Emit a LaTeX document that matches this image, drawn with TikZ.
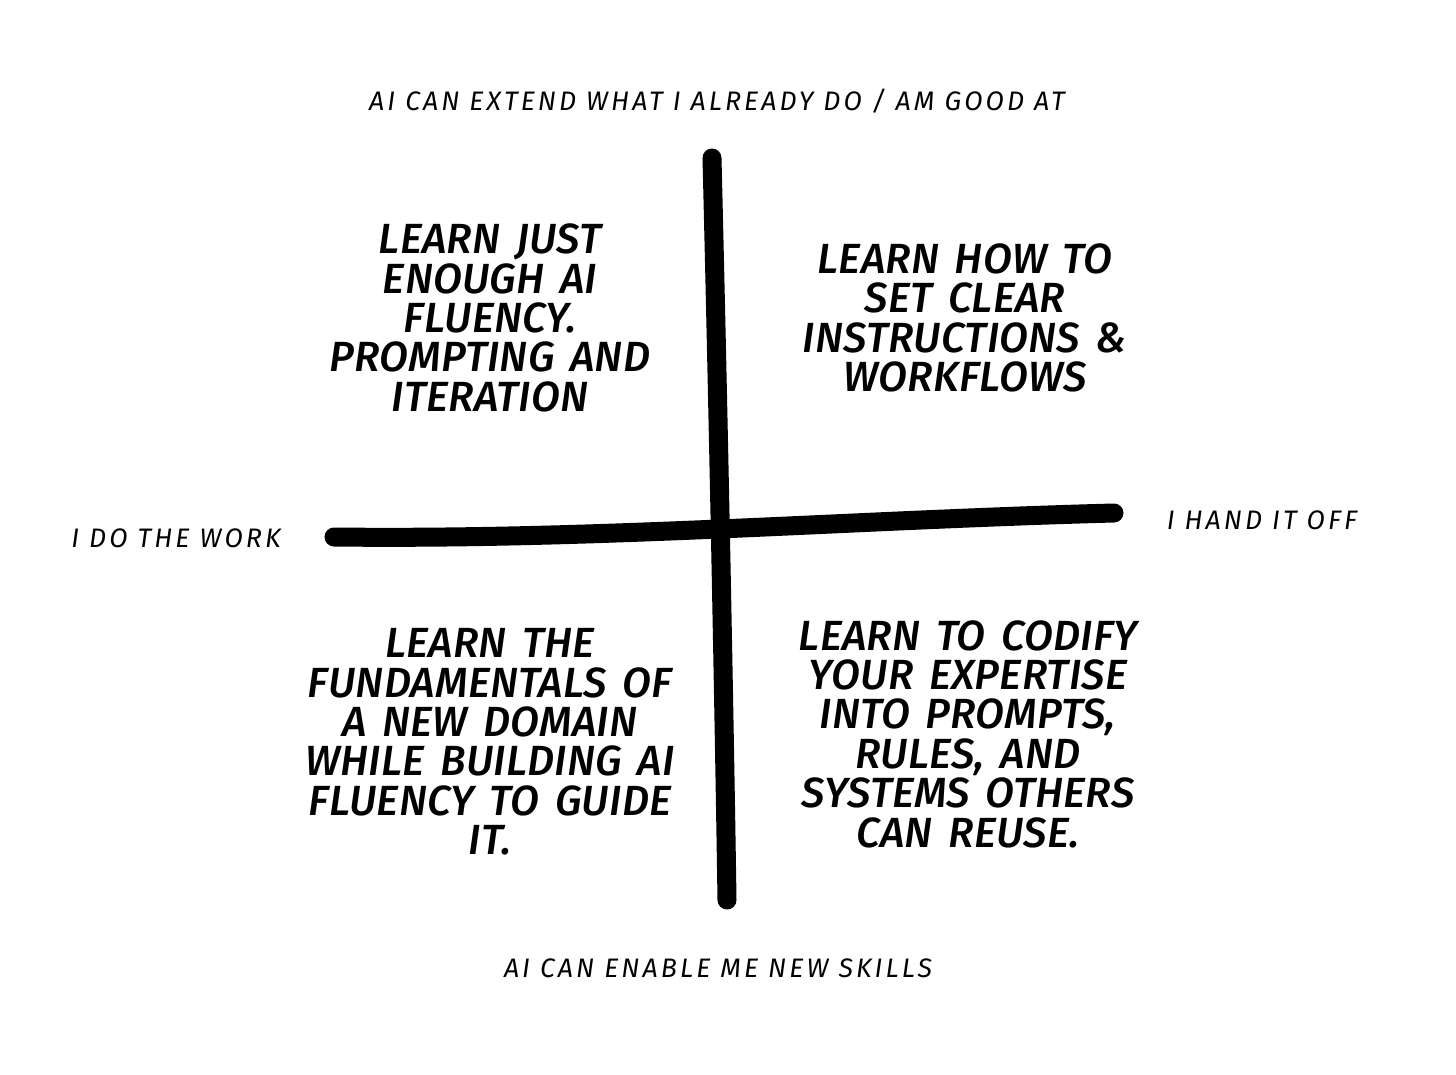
\documentclass[tikz,border=0pt]{standalone}
\usepackage{fontspec}
\setmainfont{Fira Sans}
\newfontfamily\handfont{Fira Sans Medium}[ItalicFont={Fira Sans Medium Italic}, LetterSpace=0.5, WordSpace=1.5]
\usetikzlibrary{positioning}

\begin{document}
\begin{tikzpicture}[x=0.01cm, y=-0.01cm,
  axis/.style={line width=0.19cm, line cap=round, black},
  axislabel/.style={font=\fontsize{7.6}{9}\selectfont\itshape\addfontfeature{LetterSpace=11.5}},
  quadtext/.style={font=\fontsize{12}{11.2}\selectfont\handfont\itshape, align=center, inner sep=0pt}]

\useasboundingbox (0,0) rectangle (1456,1075);

% === Axes ===
\coordinate (vtop) at (712,158);
\coordinate (vbot) at (727,900);
\coordinate (hleft) at (334,537);
\coordinate (hright) at (1114,513);
\draw[axis] (vtop) .. controls (718,400) and (724,700) .. (vbot);
\draw[axis] (hleft) .. controls (600,540) and (850,520) .. (hright);

% === Axis labels ===
\node[axislabel] (extend) at (717,101) {AI CAN EXTEND WHAT I ALREADY DO / AM GOOD AT};
\node[axislabel] (enable) at (718,968) {AI CAN ENABLE ME NEW SKILLS};
\node[axislabel] (dowork) at (176,538) {I DO THE WORK};
\node[axislabel] (handoff) at (1262,520) {I HAND IT OFF};

% === Quadrants ===
\node[quadtext] (tl) at (490,318)
     {LEARN JUST\\ENOUGH AI\\FLUENCY.\\PROMPTING AND\\ITERATION};
\node[quadtext] (tr) at (965,318)
     {LEARN HOW TO\\SET CLEAR\\INSTRUCTIONS \&\\WORKFLOWS};
\node[quadtext] (bl) at (490,742)
     {LEARN THE\\FUNDAMENTALS OF\\A NEW DOMAIN\\WHILE BUILDING AI\\FLUENCY TO GUIDE\\IT.};
\node[quadtext] (br) at (968,734)
     {LEARN TO CODIFY\\YOUR EXPERTISE\\INTO PROMPTS,\\RULES, AND\\SYSTEMS OTHERS\\CAN REUSE.};

\end{tikzpicture}
\end{document}
